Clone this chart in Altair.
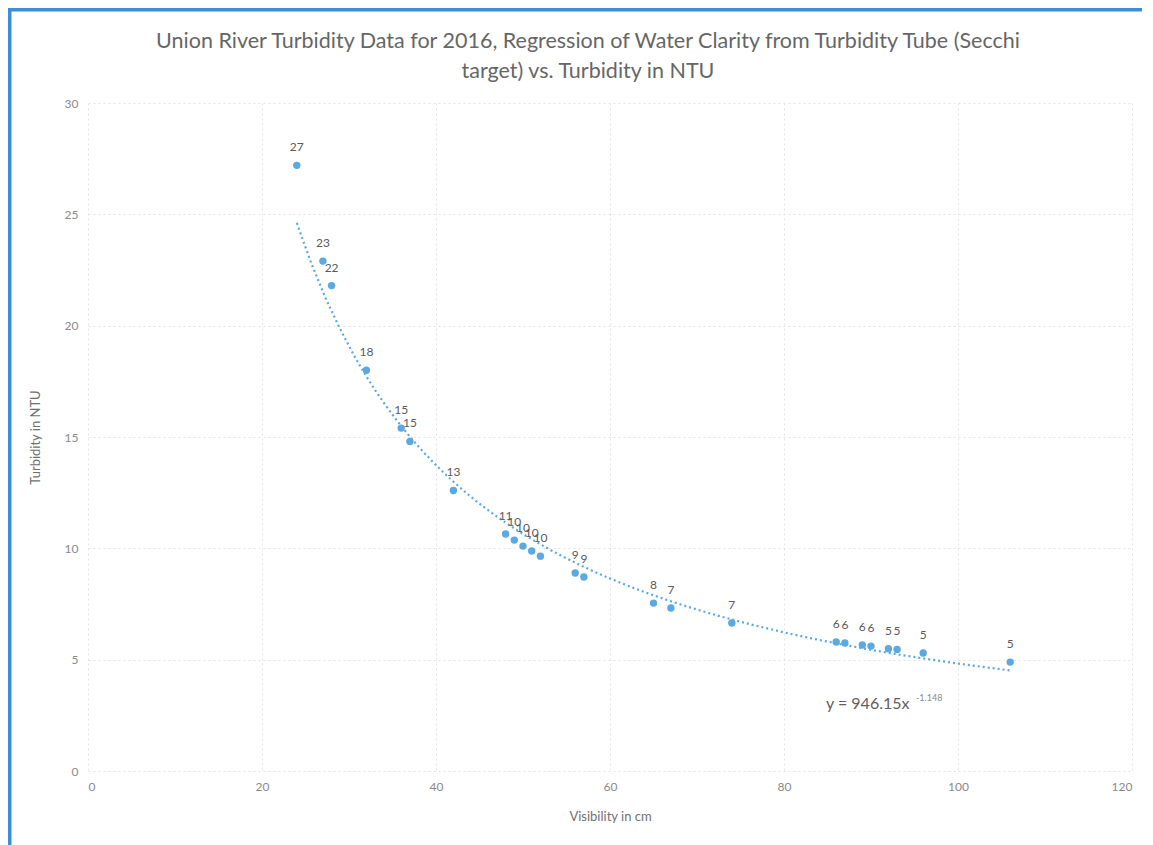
import altair as alt
import pandas as pd

visibility = [24, 27, 28, 32, 36, 37, 42, 48, 49, 50, 51, 52, 56, 57, 65, 67, 74,
              86, 87, 89, 90, 92, 93, 96, 106]
turbidity = [27.2, 22.9, 21.8, 18.0, 15.4, 14.8, 12.6, 10.64, 10.37, 10.1, 9.88, 9.65,
             8.89, 8.71, 7.54, 7.32, 6.65, 5.79, 5.75, 5.66, 5.61, 5.49, 5.46, 5.30, 4.89]

title_lines = ["Union River Turbidity Data for 2016, Regression of Water Clarity from Turbidity Tube (Secchi",
               "target) vs. Turbidity in NTU"]
x_ticks = [0, 20, 40, 60, 80, 100, 120]
y_ticks = [0, 5, 10, 15, 20, 25, 30]
equation = "y = 946.15x"
exponent = "-1.148"

df = pd.DataFrame({"vis": visibility, "ntu": turbidity})
one = pd.DataFrame({"k": [0]})

FONT = "Lato"
BLUE = "#5aa9e3"
FRAME = "#3a8fd8"

x_enc = alt.X("vis:Q", scale=alt.Scale(domain=[0, 120], nice=False),
              axis=alt.Axis(values=x_ticks, title="Visibility in cm", grid=True))
y_enc = alt.Y("ntu:Q", scale=alt.Scale(domain=[0, 30], nice=False),
              axis=alt.Axis(values=y_ticks, title="Turbidity in NTU", grid=True))

base = alt.Chart(df)

trend = base.transform_regression("vis", "ntu", method="pow").mark_line(
    color=BLUE, strokeDash=[2, 3], strokeWidth=2.2
).encode(x=x_enc, y=y_enc)

points = base.mark_circle(size=55, color=BLUE, opacity=1).encode(x=x_enc, y=y_enc)

labels = base.mark_text(dy=-18, fontSize=12, color="#5a5a5a", font=FONT).encode(
    x=x_enc, y=y_enc, text=alt.Text("ntu:Q", format=".0f"))

ann = alt.Chart(one)
eq = ann.mark_text(align="left", baseline="middle", fontSize=16, color="#606060", font=FONT).encode(
    x=alt.value(738), y=alt.value(601), text=alt.value(equation))
eq_sup = ann.mark_text(align="left", baseline="middle", fontSize=9, color="#8a8a8a", font=FONT).encode(
    x=alt.value(828), y=alt.value(595), text=alt.value(exponent))

title1 = ann.mark_text(align="center", baseline="middle", fontSize=21.5, color="#666666", font=FONT).encode(
    x=alt.value(500), y=alt.value(-61), text=alt.value(title_lines[0]))
title2 = ann.mark_text(align="center", baseline="middle", fontSize=21.5, color="#666666", font=FONT).encode(
    x=alt.value(500), y=alt.value(-31), text=alt.value(title_lines[1]))

frame_left = ann.mark_rect(color=FRAME).encode(
    x=alt.value(-80), x2=alt.value(-76.5), y=alt.value(-95), y2=alt.value(760))
frame_top = ann.mark_rect(color=FRAME).encode(
    x=alt.value(-80), x2=alt.value(1070), y=alt.value(-95), y2=alt.value(-91.5))

chart = alt.layer(frame_left, frame_top, title1, title2, trend, points, labels, eq, eq_sup).properties(
    width=1044, height=668,
    autosize="none",
    padding={"left": 80, "top": 95, "right": 10, "bottom": 76},
).configure_view(stroke=None).configure_axis(
    domain=False, ticks=False, gridColor="#e4e4e4", gridDash=[2, 3], gridWidth=1,
    labelColor="#8a8a8a", labelFont=FONT, labelFontSize=12,
    titleColor="#707070", titleFont=FONT, titleFontSize=13, titleFontWeight="normal",
    labelPadding=10,
).configure_axisX(titlePadding=18).configure_axisY(titlePadding=22)

chart.save("out.html", embed_options={"renderer": "svg", "actions": False})
